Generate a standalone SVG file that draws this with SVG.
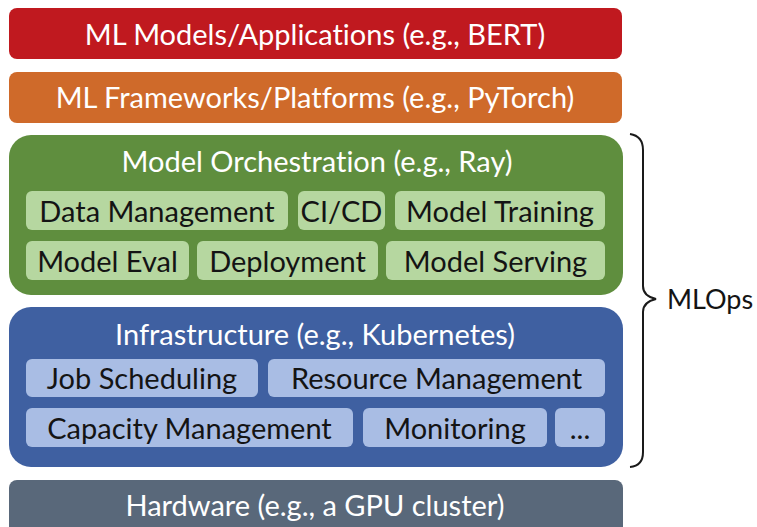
<svg xmlns="http://www.w3.org/2000/svg" width="757" height="527" viewBox="0 0 757 527">
<style>
.t{font-family:Lato,"Open Sans",sans-serif;text-anchor:middle;font-variant-ligatures:none;font-feature-settings:"liga" 0,"clig" 0,"dlig" 0}
.w{fill:#ffffff;font-size:29px}
.d{fill:#141414;font-size:29px}
.lg{fill:#b6d7a0}
.lb{fill:#a9bde4}
</style>
<rect width="757" height="527" fill="#ffffff"/>
<g id="apps"><rect x="9" y="8" width="613" height="51" rx="8" fill="#c0191f"/><text class="t w" x="315" y="45">ML Models/Applications (e.g., BERT)</text></g>
<g id="frameworks"><rect x="9" y="72" width="613" height="51" rx="8" fill="#cf6a2a"/><text class="t w" x="315" y="108">ML Frameworks/Platforms (e.g., PyTorch)</text></g>
<g id="orchestration"><rect x="9" y="135" width="614" height="160" rx="22" fill="#5f8e3e"/><text class="t w" x="317" y="172">Model Orchestration (e.g., Ray)</text>
<g id="data-mgmt"><rect class="lg" x="26" y="191" width="262" height="39" rx="6"/><text class="t d" x="157" y="222">Data Management</text></g>
<g id="cicd"><rect class="lg" x="298" y="191" width="87" height="39" rx="6"/><text class="t d" x="341.5" y="222">CI/CD</text></g>
<g id="training"><rect class="lg" x="395" y="191" width="210" height="39" rx="6"/><text class="t d" x="500" y="222">Model Training</text></g>
<g id="eval"><rect class="lg" x="26" y="241" width="163" height="39" rx="6"/><text class="t d" x="107.5" y="272">Model Eval</text></g>
<g id="deployment"><rect class="lg" x="197" y="241" width="181" height="39" rx="6"/><text class="t d" x="287.5" y="272">Deployment</text></g>
<g id="serving"><rect class="lg" x="386" y="241" width="219" height="39" rx="6"/><text class="t d" x="495.5" y="272">Model Serving</text></g>
</g>
<g id="infrastructure"><rect x="9" y="307" width="614" height="160" rx="22" fill="#3f60a1"/><text class="t w" x="315" y="345">Infrastructure (e.g., Kubernetes)</text>
<g id="job-sched"><rect class="lb" x="26" y="359" width="232" height="38" rx="6"/><text class="t d" x="142" y="389">Job Scheduling</text></g>
<g id="resource"><rect class="lb" x="268" y="359" width="337" height="38" rx="6"/><text class="t d" x="436.5" y="389">Resource Management</text></g>
<g id="capacity"><rect class="lb" x="26" y="408" width="327" height="39" rx="6"/><text class="t d" x="189.5" y="439">Capacity Management</text></g>
<g id="monitoring"><rect class="lb" x="363" y="408" width="184" height="39" rx="6"/><text class="t d" x="455" y="439">Monitoring</text></g>
<g id="more"><rect class="lb" x="555" y="408" width="50" height="39" rx="6"/><text class="t d" x="580" y="439">...</text></g>
</g>
<g id="hardware"><rect x="9" y="480" width="614" height="60" rx="8" fill="#59687a"/><text class="t w" x="315" y="516">Hardware (e.g., a GPU cluster)</text></g>
<g id="connectors"><path d="M630 134 Q643 136 643 150 L643 286 Q643 296 656 299 Q643 302 643 312 L643 452 Q643 466 630 467" fill="none" stroke="#1a1a1a" stroke-width="2"/></g>
<g id="mlops"><text x="667" y="309" style="font-family:Lato,'Open Sans',sans-serif;font-size:27px;fill:#141414">MLOps</text></g>
</svg>
